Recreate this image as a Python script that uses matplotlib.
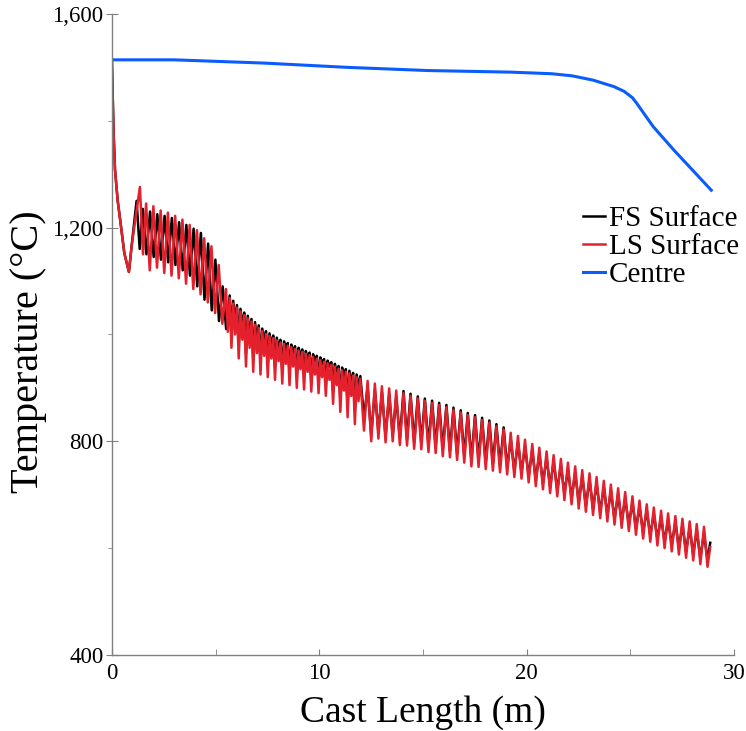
import matplotlib
matplotlib.use("Agg")
import matplotlib.pyplot as plt
import numpy as np
from matplotlib.ticker import FuncFormatter, MultipleLocator

plt.rcParams["font.family"] = ["Liberation Serif", "DejaVu Serif"]

# melt entering the mould, both surfaces share the first drop
start_x = [0.0, 0.03, 0.08, 0.15, 0.28, 0.40, 0.60, 0.82, 0.95]
start_T = [1514, 1460, 1380, 1308, 1250, 1214, 1152, 1117, 1165]

# roll / spray positions (m) where the LS surface peaks
roll_x = [1.35, 1.65, 2.00, 2.35, 2.70, 3.05, 3.40, 3.75, 4.10, 4.45, 4.80, 5.15, 5.50,
          5.68, 5.85, 6.03, 6.20, 6.38, 6.55, 6.73, 6.90, 7.08, 7.25, 7.43, 7.60, 7.78,
          7.95, 8.13, 8.30, 8.48, 8.65, 8.83, 9.00, 9.18, 9.35, 9.53, 9.70, 9.88, 10.05,
          10.23, 10.40, 10.58, 10.75, 10.93, 11.10, 11.28, 11.45, 11.63, 11.80, 11.98,
          12.33, 12.68, 13.02, 13.37, 13.71, 14.06, 14.40, 14.75, 15.09, 15.44, 15.78,
          16.13, 16.47, 16.82, 17.16, 17.51, 17.85, 18.20, 18.54, 18.89, 19.23, 19.58,
          19.92, 20.27, 20.61, 20.96, 21.30, 21.65, 21.99, 22.34, 22.68, 23.03, 23.37,
          23.72, 24.06, 24.41, 24.75, 25.10, 25.44, 25.79, 26.13, 26.48, 26.82, 27.17,
          27.51, 27.86, 28.20, 28.55]

# LS surface: peak and trough temperature per roll pitch
ls_hi = [1276, 1245, 1240, 1232, 1228, 1222, 1215, 1205, 1195, 1180, 1165, 1130, 1085,
         1068, 1058, 1050, 1043, 1036, 1030, 1024, 1018, 1012, 1006, 1001, 997, 993,
         989, 985, 982, 979, 976, 973, 970, 967, 964, 961, 958, 955, 952,
         949, 946, 943, 940, 936, 933, 930, 927, 923, 920, 917,
         913, 908, 903, 899, 895, 890, 885, 880, 876, 872, 868,
         864, 859, 854, 849, 845, 840, 835, 828, 822, 816, 810,
         803, 795, 788, 781, 774, 767, 760, 753, 746, 740, 733,
         726, 719, 712, 705, 697, 689, 682, 676, 670, 665, 660,
         655, 650, 645, 640]
ls_lo = [1150, 1120, 1125, 1115, 1110, 1105, 1095, 1085, 1075, 1060, 1040, 1020, 1005,
         975, 1000, 955, 990, 940, 975, 930, 965, 925, 960, 920, 955, 915,
         950, 908, 945, 905, 940, 900, 935, 897, 930, 893, 925, 890, 920,
         885, 915, 870, 905, 855, 895, 845, 885, 832, 875, 820,
         800, 805, 798, 800, 793, 792, 786, 785, 780, 778, 772,
         770, 765, 760, 753, 752, 748, 745, 742, 738, 733, 730,
         723, 716, 710, 703, 697, 690, 682, 674, 668, 662, 656,
         650, 644, 638, 632, 625, 618, 612, 605, 600, 594, 588,
         582, 577, 570, 565]

# FS surface: peak and trough temperature per roll pitch
fs_hi = [1250, 1235, 1230, 1225, 1222, 1218, 1210, 1205, 1198, 1190, 1170, 1140, 1090,
         1073, 1063, 1055, 1048, 1041, 1035, 1029, 1023, 1017, 1011, 1006, 1002, 998,
         994, 990, 987, 984, 981, 978, 975, 972, 969, 966, 963, 960, 957,
         954, 951, 948, 945, 941, 938, 935, 932, 928, 925, 922,
         901, 896, 891, 887, 883, 894, 889, 884, 880, 876, 872,
         868, 863, 858, 853, 849, 844, 839, 832, 826, 804, 798,
         791, 783, 776, 769, 762, 755, 748, 741, 734, 728, 721,
         714, 707, 700, 693, 685, 677, 670, 664, 658, 653, 648,
         643, 638, 633, 628]
fs_lo = [1160, 1150, 1145, 1140, 1135, 1130, 1120, 1110, 1090, 1065, 1045, 1025, 1010,
         1000, 1025, 980, 1015, 965, 1000, 955, 990, 950, 985, 945, 980, 940,
         975, 933, 970, 930, 965, 925, 960, 922, 955, 918, 950, 915, 945,
         910, 940, 895, 930, 880, 920, 870, 910, 857, 900, 845,
         812, 817, 810, 812, 805, 804, 798, 797, 792, 790, 784,
         782, 777, 772, 765, 764, 760, 757, 754, 750, 745, 742,
         735, 728, 722, 715, 709, 702, 694, 686, 680, 674, 668,
         662, 656, 650, 644, 637, 630, 624, 617, 612, 606, 600,
         594, 589, 582, 577]

end_x = 28.85
ls_end = 602
fs_end = 610

# centre line temperature
centre_x = [0.0, 3.0, 7.3, 11.3, 15.2, 19.2, 21.2, 22.2, 23.2, 24.2, 24.7, 25.1, 25.3, 26.1, 27.1, 28.9]
centre_T = [1514, 1514, 1508, 1500, 1494, 1491, 1488, 1484, 1476, 1464, 1455, 1443, 1433, 1389, 1345, 1270]


def zigzag(xs, hi, lo):
    xs = np.asarray(xs)
    px, pt = [], []
    for i in range(len(xs)):
        nxt = xs[i + 1] if i + 1 < len(xs) else xs[i] + 0.34
        px += [xs[i], 0.5 * (xs[i] + nxt)]
        pt += [hi[i], lo[i]]
    return px, pt


rx = np.array(roll_x)
# in the first zone the FS peaks fall half a pitch before the LS ones
fs_shift = np.where(rx < 5.6, -0.16, 0.0)

lx, lt = zigzag(roll_x, ls_hi, ls_lo)
fx, ft = zigzag(rx + fs_shift, fs_hi, fs_lo)

fig = plt.figure(figsize=(7.46, 7.31), dpi=100)
ax = fig.add_axes([0.150, 0.104, 0.834, 0.877])

ax.plot(start_x + fx + [end_x], start_T + ft + [fs_end], color="black", lw=1.8, label="FS Surface")
ax.plot(start_x + lx + [end_x], start_T + lt + [ls_end], color="#e3202b", lw=1.8, label="LS Surface")
ax.plot(centre_x, centre_T, color="#0a5cff", lw=2.2, label="Centre")

ax.set_xlim(0, 30)
ax.set_ylim(400, 1600)
ax.xaxis.set_major_locator(MultipleLocator(10))
ax.xaxis.set_minor_locator(MultipleLocator(5))
ax.yaxis.set_major_locator(MultipleLocator(400))
ax.yaxis.set_minor_locator(MultipleLocator(200))
ax.yaxis.set_major_formatter(FuncFormatter(lambda v, p: "{:,.0f}".format(v)))

for s in ["top", "right"]:
    ax.spines[s].set_visible(False)
for s in ["left", "bottom"]:
    ax.spines[s].set_color("#808080")
    ax.spines[s].set_linewidth(1.0)

ax.tick_params(axis="x", which="both", direction="in", length=4, color="#808080", labelsize=16.5, pad=6)
ax.tick_params(axis="y", which="major", direction="inout", length=8, color="#808080", labelsize=16.5, pad=2)
ax.tick_params(axis="y", which="minor", direction="out", length=3, color="#808080")

ax.set_xlabel("Cast Length (m)", fontsize=27, labelpad=8)
ax.set_ylabel("Temperature (°C)", fontsize=29)
ax.yaxis.set_label_coords(-0.105, 0.473)

leg = ax.legend(loc="upper left", bbox_to_anchor=(583 / 746, 1 - 206 / 731), bbox_transform=fig.transFigure,
                frameon=False, fontsize=21, handlelength=0.75, handletextpad=0.15, borderpad=0,
                borderaxespad=0, labelspacing=0.05)

fig.savefig("out.png", dpi=100)
